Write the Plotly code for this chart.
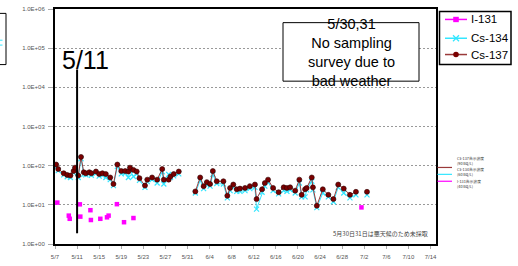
import math
import plotly.graph_objects as go

# ---------------- data ----------------
cs_time = [
    "2011-05-07 05:00", "2011-05-07 14:00", "2011-05-08 14:00", "2011-05-09 05:00", "2011-05-09 19:00",
    "2011-05-10 09:00", "2011-05-10 15:00", "2011-05-11 05:00", "2011-05-11 17:00", "2011-05-12 05:00",
    "2011-05-12 14:00", "2011-05-13 05:00", "2011-05-13 14:00", "2011-05-14 10:00", "2011-05-15 00:00",
    "2011-05-15 14:00", "2011-05-16 05:00", "2011-05-17 00:00", "2011-05-17 14:00", "2011-05-18 07:00",
    "2011-05-19 00:00", "2011-05-19 17:00", "2011-05-20 07:00", "2011-05-20 14:00", "2011-05-21 05:00",
    "2011-05-21 19:00", "2011-05-22 07:00", "2011-05-23 07:00", "2011-05-23 17:00", "2011-05-24 14:00",
    "2011-05-25 12:00", "2011-05-26 10:00", "2011-05-26 17:00", "2011-05-27 14:00", "2011-05-27 22:00",
    "2011-05-28 12:00", "2011-05-29 10:00",
    "2011-05-30 12:00",
    "2011-06-01 10:00", "2011-06-02 07:00", "2011-06-02 22:00", "2011-06-03 12:00", "2011-06-04 02:00",
    "2011-06-04 14:00", "2011-06-05 07:00", "2011-06-06 12:00", "2011-06-07 05:00", "2011-06-07 17:00",
    "2011-06-08 07:00", "2011-06-08 22:00", "2011-06-09 12:00", "2011-06-10 10:00", "2011-06-11 07:00",
    "2011-06-12 05:00", "2011-06-12 12:00", "2011-06-13 12:00", "2011-06-14 00:00", "2011-06-14 14:00",
    "2011-06-15 12:00", "2011-06-16 12:00", "2011-06-17 10:00", "2011-06-18 00:00", "2011-06-18 14:00",
    "2011-06-19 12:00", "2011-06-20 06:00", "2011-06-20 16:00", "2011-06-21 07:00", "2011-06-21 14:00",
    "2011-06-22 12:00", "2011-06-22 17:00", "2011-06-23 10:00", "2011-06-24 12:00", "2011-06-25 12:00",
    "2011-06-26 10:00", "2011-06-27 07:00", "2011-06-28 07:00", "2011-06-29 10:00", "2011-06-30 12:00",
    "2011-07-01 12:00",
    "2011-07-02 12:00",
]

cs137 = [
    107, 82, 64, 58, 56, 73, 89, 56, 167, 68,
    64, 68, 64, 71, 61, 64, 61, 50, 34, 107,
    73, 73, 71, 89, 78, 71, 48, 31, 44, 50,
    44, 82, 44, 44, 53, 61, 71,
    None,
    22, 50, 30, 38, 34, 73, 40, 40, 17, 27,
    33, 25, 26, 27, 30, 33, 14, 25, 36, 44,
    27, 21, 28, 27, 28, 23, 44, 18, 25, 27,
    50, 28, 9.5, 25, 18, 14, 33, 26, 18, 21.5,
    None,
    21.5,
]

cs134 = [
    95, 75, 58, 52, 50, 66, 80, 50, 150, 60,
    58, 62, 57, 64, 54, 57, 50, 44, 31, 95,
    62, 64, 50, 78, 53, 62, 42, 28, 39, 44,
    36, 70, 34, 60, 50, 55, 62,
    None,
    20, 42, 26, 33, 30, 60, 35, 34, 15, 23,
    28, 22, 22, 23, 26, 28, 7.8, 21, 30, 38,
    23, 19, 23, 22, 24, 20, 36, 16, 16, 24,
    40, 24, 8.5, 20, 16, 12, 28, 20, 15, 18,
    None,
    18,
]

i131_time = [
    "2011-05-07 10:00", "2011-05-09 12:00", "2011-05-09 16:00", "2011-05-11 12:00", "2011-05-11 14:00",
    "2011-05-13 10:00", "2011-05-13 12:00", "2011-05-15 05:00", "2011-05-16 10:00", "2011-05-16 17:00",
    "2011-05-18 05:00", "2011-05-19 12:00", "2011-05-21 05:00", "2011-07-01 12:00",
]
i131 = [11.4, 5.3, 4.4, 10.3, 5.0, 7.3, 4.1, 4.4, 4.8, 5.3, 10.4, 3.6, 4.6, 8.6]

tick_dates = [
    "2011-05-07", "2011-05-11", "2011-05-15", "2011-05-19", "2011-05-23", "2011-05-27",
    "2011-05-31", "2011-06-04", "2011-06-08", "2011-06-12", "2011-06-16", "2011-06-20",
    "2011-06-24", "2011-06-28", "2011-07-02", "2011-07-06", "2011-07-10", "2011-07-14",
]
tick_labels = ["5/7", "5/11", "5/15", "5/19", "5/23", "5/27", "5/31", "6/4", "6/8", "6/12",
               "6/16", "6/20", "6/24", "6/28", "7/2", "7/6", "7/10", "7/14"]

y_tickvals = [1, 10, 100, 1000, 10000, 100000, 1000000]
y_ticktext = ["1.0E+00", "1.0E+01", "1.0E+02", "1.0E+03", "1.0E+04", "1.0E+05", "1.0E+06"]

series_names = ["I-131", "Cs-134", "Cs-137"]
limit_labels = ["Cs-137告示濃度<br>(90 Bq/L)", "Cs-134告示濃度<br>(60 Bq/L)", "I-131告示濃度<br>(40 Bq/L)"]
limit_values = [90, 60, 40]

# ---------------- styles ----------------
C_I = "#FF00FF"
C_134 = "#33E6FF"
C_137_M = "#7A0000"
C_137_L = "#9A3A3A"
FONT = "Arial, Liberation Sans, sans-serif"

W, H = 518, 266
L, R, T, B = 55, 82, 6, 19
PW, PH = W - L - R, H - T - B


def px(xw):
    """window pixel x -> paper x"""
    return (xw - L) / PW


def py(yw):
    """window pixel y -> paper y"""
    return (H - B - yw) / PH


fig = go.Figure()
fig.add_trace(go.Scatter(
    x=cs_time, y=cs134, mode="lines+markers", name=series_names[1], connectgaps=False,
    line=dict(color=C_134, width=1),
    marker=dict(symbol="x-thin", size=5, color=C_134, line=dict(color=C_134, width=1.2)),
    showlegend=False))
fig.add_trace(go.Scatter(
    x=cs_time, y=cs137, mode="lines+markers", name=series_names[2], connectgaps=False,
    line=dict(color=C_137_L, width=1),
    marker=dict(symbol="circle", size=5, color=C_137_M, line=dict(color="#300000", width=0.6)),
    showlegend=False))
fig.add_trace(go.Scatter(
    x=i131_time, y=i131, mode="markers", name=series_names[0],
    marker=dict(symbol="square", size=4.5, color=C_I),
    showlegend=False))

shapes = []
annotations = []

# 5/11 marker line
shapes.append(dict(type="line", xref="x", yref="paper", x0="2011-05-11", x1="2011-05-11",
                   y0=py(236), y1=py(68), line=dict(color="black", width=2)))
annotations.append(dict(xref="paper", yref="paper", x=px(85.5), y=py(58), text="5/11",
                        showarrow=False, xanchor="center", yanchor="middle",
                        font=dict(family=FONT, size=25, color="black")))

# no-sampling note box
shapes.append(dict(type="rect", xref="paper", yref="paper", x0=px(283), x1=px(419),
                   y0=py(80), y1=py(20), line=dict(color="black", width=1),
                   fillcolor="white", layer="above"))
annotations.append(dict(xref="paper", yref="paper", x=px(351), y=py(50.5),
                        text="5/30,31<br>No sampling<br>survey due to<br>bad weather",
                        showarrow=False, xanchor="center", yanchor="middle",
                        font=dict(family=FONT, size=14.5, color="black")))

# Japanese footnote
annotations.append(dict(xref="paper", yref="paper", x=px(430), y=py(236),
                        text="5月30日31日は悪天候のため未採取", showarrow=False,
                        xanchor="right", yanchor="middle",
                        font=dict(family="Noto Sans CJK JP", size=6, color="#444")))

# manual legend
shapes.append(dict(type="rect", xref="paper", yref="paper", x0=px(439.5), x1=px(511),
                   y0=py(63), y1=py(8.5), line=dict(color="black", width=1.5),
                   fillcolor="white", layer="above"))
leg_y = [16.7, 36, 52.7]
leg_line_colors = [C_I, C_134, C_137_L]
for name, yy, lc in zip(series_names, leg_y, leg_line_colors):
    shapes.append(dict(type="line", xref="paper", yref="paper", x0=px(445), x1=px(467),
                       y0=py(yy), y1=py(yy), line=dict(color=lc, width=1.5), layer="above"))
    annotations.append(dict(xref="paper", yref="paper", x=px(469), y=py(yy), text=name,
                            showarrow=False, xanchor="left", yanchor="middle",
                            font=dict(family=FONT, size=11.5, color="black")))
# legend markers
shapes.append(dict(type="rect", xref="paper", yref="paper", x0=px(453.2), x1=px(458.8),
                   y0=py(19.5), y1=py(14), fillcolor=C_I, line=dict(width=0), layer="above"))
shapes.append(dict(type="line", xref="paper", yref="paper", x0=px(453), x1=px(459),
                   y0=py(33), y1=py(39), line=dict(color=C_134, width=1.3), layer="above"))
shapes.append(dict(type="line", xref="paper", yref="paper", x0=px(453), x1=px(459),
                   y0=py(39), y1=py(33), line=dict(color=C_134, width=1.3), layer="above"))
shapes.append(dict(type="circle", xref="paper", yref="paper", x0=px(453.2), x1=px(458.8),
                   y0=py(55.5), y1=py(49.9), fillcolor=C_137_M, line=dict(width=0), layer="above"))

# limit markers on right side
limit_colors = [C_137_L, C_134, C_I]
limit_text_y = [162, 173, 185.5]
for lab, v, col, ty in zip(limit_labels, limit_values, limit_colors, limit_text_y):
    yv = math.log10(v) / 6.0
    shapes.append(dict(type="line", xref="paper", yref="paper", x0=px(437.5), x1=px(452),
                       y0=yv, y1=yv, line=dict(color=col, width=1.2)))
    annotations.append(dict(xref="paper", yref="paper", x=px(455), y=py(ty), text=lab,
                            showarrow=False, xanchor="left", yanchor="middle", align="left",
                            font=dict(family="Noto Sans CJK JP", size=3.8, color="#333")))

# partial box at far left (cut-off neighbouring panel)
shapes.append(dict(type="rect", xref="paper", yref="paper", x0=px(-3), x1=px(6),
                   y0=py(63), y1=py(10.5), line=dict(color="black", width=1)))
for yy in [38, 43]:
    shapes.append(dict(type="line", xref="paper", yref="paper", x0=px(0), x1=px(2.5),
                       y0=py(yy), y1=py(yy), line=dict(color=C_134, width=1)))

fig.update_layout(
    width=W, height=H, autosize=False,
    margin=dict(l=L, r=R, t=T, b=B, pad=0),
    paper_bgcolor="white", plot_bgcolor="white",
    showlegend=False, hovermode=False,
    font=dict(family=FONT),
    shapes=shapes, annotations=annotations,
    xaxis=dict(type="date", range=["2011-05-07", "2011-07-15"],
               tickvals=tick_dates, ticktext=tick_labels,
               showgrid=False, zeroline=False,
               showline=True, linecolor="black", linewidth=2, mirror=True,
               ticks="outside", ticklen=3, tickcolor="#aaa", ticklabelstandoff=3,
               tickfont=dict(size=6, color="#555")),
    yaxis=dict(type="log", range=[0, 6],
               tickvals=y_tickvals, ticktext=y_ticktext,
               showgrid=True, gridcolor="#999", gridwidth=1, griddash="2px,2px",
               zeroline=False,
               showline=True, linecolor="black", linewidth=2, mirror=True,
               ticks="outside", ticklen=5, tickcolor="#aaa", ticklabelstandoff=2,
               tickfont=dict(size=6, color="#555")),
)

# remove the default 8px page margin so the figure sits at the window origin
fig.write_html("out.html", config={"displayModeBar": False, "staticPlot": True},
               post_script="document.body.style.margin='0px';")
